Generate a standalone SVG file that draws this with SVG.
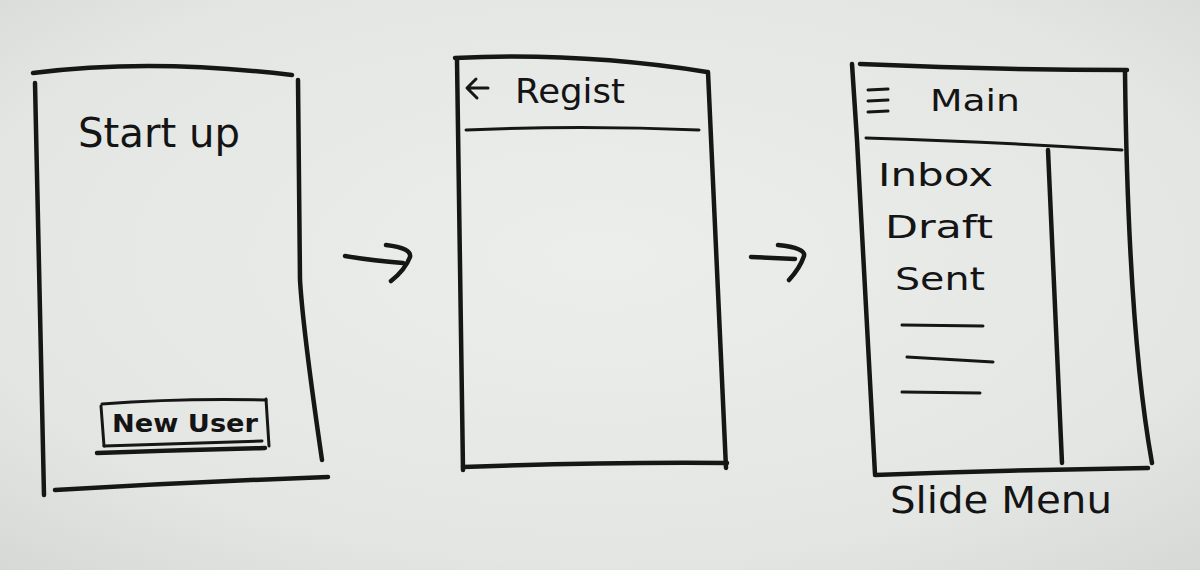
<svg xmlns="http://www.w3.org/2000/svg" width="1200" height="570" viewBox="0 0 1200 570">
  <defs>
    <radialGradient id="board" cx="50%" cy="45%" r="75%">
      <stop offset="0" stop-color="#eceeec"/>
      <stop offset="0.7" stop-color="#e4e6e4"/>
      <stop offset="1" stop-color="#d6d8d6"/>
    </radialGradient>
    <style>
      .ink { fill: none; stroke: #161616; stroke-width: 4.5; stroke-linecap: round; stroke-linejoin: round; }
      .thin { stroke-width: 3; }
      .hand { font-family: "DejaVu Sans", "Liberation Sans", sans-serif; fill: #141414; }
    </style>
  </defs>

  <rect width="1200" height="570" fill="url(#board)"/>

  <!-- Start up screen -->
  <g id="startup">
    <path class="ink" d="M33,73 Q150,58 292,75"/>
    <path class="ink" d="M35,83 L44,495"/>
    <path class="ink" d="M298,80 L300,280 Q303,330 322,460"/>
    <path class="ink" d="M55,490 Q190,482 328,477"/>
    <text class="hand" x="78" y="147" font-size="40" textLength="162" lengthAdjust="spacingAndGlyphs">Start up</text>
    <g id="new-user">
      <path class="ink thin" d="M102,404 Q180,398 266,400"/>
      <path class="ink thin" d="M101,406 L104,446"/>
      <path class="ink thin" d="M266,399 L269,446"/>
      <path class="ink thin" d="M104,446 L262,441"/>
      <path class="ink" d="M97,453 Q180,450 265,448"/>
      <text class="hand" x="112" y="432" font-size="25" font-weight="bold" textLength="146" lengthAdjust="spacingAndGlyphs">New User</text>
    </g>
  </g>

  <!-- Regist screen -->
  <g id="regist">
    <path class="ink" d="M455,58 Q580,52 707,72"/>
    <path class="ink" d="M457,60 L463,470"/>
    <path class="ink" d="M708,72 L726,468"/>
    <path class="ink" d="M463,467 Q600,462 727,463"/>
    <path class="ink thin" d="M466,130 Q580,125 699,130"/>
    <path class="ink thin" d="M468,88 L488,88 M476,79 L467,88 L477,98"/>
    <text class="hand" x="515" y="103" font-size="34" textLength="110" lengthAdjust="spacingAndGlyphs">Regist</text>
  </g>

  <!-- Main screen with slide menu -->
  <g id="main">
    <path class="ink" d="M860,64 Q1000,70 1127,70"/>
    <path class="ink" d="M852,64 L857,140 L875,474"/>
    <path class="ink" d="M1125,72 Q1128,330 1152,463"/>
    <path class="ink" d="M875,475 Q1010,470 1148,468"/>
    <path class="ink thin" d="M866,138 Q1000,142 1122,150"/>
    <path class="ink" d="M1048,150 L1062,463"/>
    <path class="ink thin" d="M868,90 L888,89 M868,101 L888,100 M868,112 L888,111"/>
    <text class="hand" x="930" y="111" font-size="30" textLength="90" lengthAdjust="spacingAndGlyphs">Main</text>
    <text class="hand" x="878" y="186" font-size="32" textLength="115" lengthAdjust="spacingAndGlyphs">Inbox</text>
    <text class="hand" x="885" y="238" font-size="32" textLength="108" lengthAdjust="spacingAndGlyphs">Draft</text>
    <text class="hand" x="895" y="290" font-size="32" textLength="90" lengthAdjust="spacingAndGlyphs">Sent</text>
    <path class="ink thin" d="M902,325 L983,326"/>
    <path class="ink thin" d="M907,357 L993,362"/>
    <path class="ink thin" d="M902,392 L980,393"/>
    <text class="hand" x="890" y="513" font-size="38" textLength="222" lengthAdjust="spacingAndGlyphs">Slide Menu</text>
  </g>

  <!-- Flow arrows between screens -->
  <g id="connectors">
    <path class="ink" d="M345,256 Q375,261 403,263"/>
    <path class="ink" d="M386,245 Q412,248 410,257 Q405,270 391,281"/>
    <path class="ink" d="M751,257 L795,259"/>
    <path class="ink" d="M778,245 Q806,248 804,256 Q800,268 789,280"/>
  </g>
</svg>
